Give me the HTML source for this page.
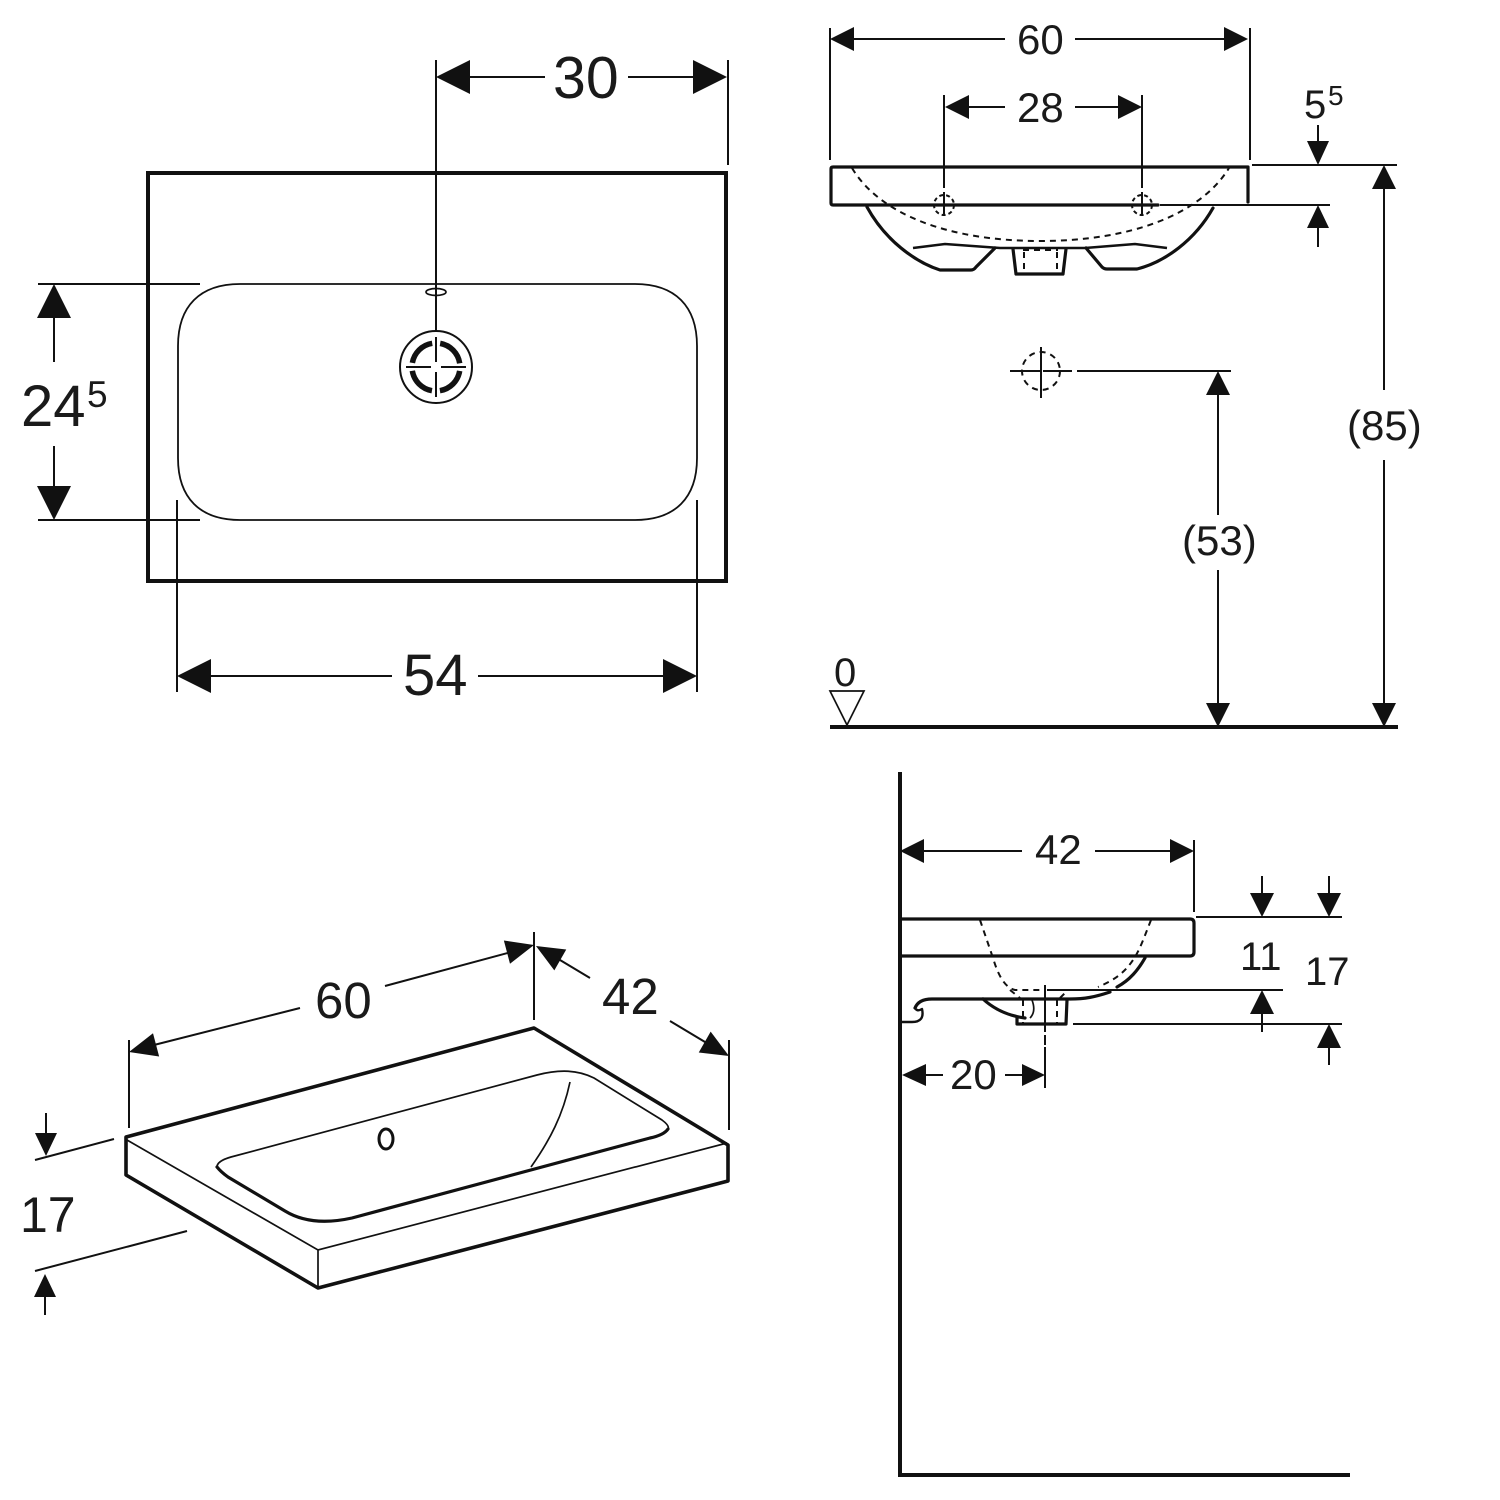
<!DOCTYPE html>
<html><head><meta charset="utf-8"><style>
html,body{margin:0;padding:0;background:#fff}
svg{display:block}
text{font-family:"Liberation Sans",sans-serif;fill:#1a1a1a}
.t{stroke:#111;stroke-width:1.7;fill:none}
.m{stroke:#111;stroke-width:2;fill:none}
.k{stroke:#111;stroke-width:3.2;fill:none;stroke-linejoin:round;stroke-linecap:round}
.d{stroke:#111;stroke-width:2;fill:none;stroke-dasharray:6 5}
polygon.a{fill:#111}
</style></head><body>
<svg width="1500" height="1500" viewBox="0 0 1500 1500" xmlns="http://www.w3.org/2000/svg">
<!-- Top-left plan -->
<rect x="148" y="173" width="578" height="408" fill="none" stroke="#111" stroke-width="4"/>
<path d="M240 284H635C675 284 697 306 697 346V458C697 498 675 520 635 520H240C200 520 178 498 178 458V346C178 306 200 284 240 284Z" fill="#fff" stroke="#111" stroke-width="1.8"/>
<path class="m" d="M436 60V335M728 60V165M38 284H200M38 520H200M177 500V692M697 500V692"/>
<path class="m" d="M470 77H545M628 77H693M54 318V362M54 446V490M211 676H392M478 676H663"/>
<polygon class="a" points="436,77 470,60 470,94"/><polygon class="a" points="727,77 693,60 693,94"/>
<polygon class="a" points="54,284 37,318 71,318"/><polygon class="a" points="54,520 37,486 71,486"/>
<polygon class="a" points="177,676 211,659 211,693"/><polygon class="a" points="697,676 663,659 663,693"/>
<text x="553" y="98" font-size="59">30</text>
<text x="403" y="695" font-size="58">54</text>
<text x="21" y="426" font-size="58">24</text><text x="87" y="407" font-size="37">5</text>
<ellipse cx="436" cy="292" rx="10" ry="3.5" fill="none" stroke="#111" stroke-width="1.7"/>
<circle cx="436" cy="367" r="36" fill="#fff" stroke="#111" stroke-width="2"/>
<circle cx="436" cy="367" r="24" fill="none" stroke="#111" stroke-width="5.5" stroke-dasharray="29.7 8" stroke-dashoffset="-4"/>
<path class="m" d="M436 337V362M436 372V397M406 367H431M441 367H466"/>
<!-- Top-right front -->
<path class="k" d="M1248 167H833Q831 167 831 169V203Q831 205 833 205H1158M1248 167V202"/>
<path class="m" d="M830 28V160M1250 28V160M944 95V188M1142 95V188M1252 165H1397M1160 205H1330M1077 371H1231"/>
<path class="k" d="M867 207C885 240 915 262 940 270H971Q974 270 976 267L995 248M1213 208C1195 240 1165 262 1137 269H1107Q1104 269 1102 267L1086 248"/>
<path class="k" d="M1013 249L1016 274H1063L1066 249" stroke-linecap="butt"/>
<path class="m" style="stroke-width:2.6" d="M913 248L945 244L1000 248H1085L1135 244L1167 248"/>
<path class="d" d="M852 168C880 215 950 241 1040 241C1130 241 1200 215 1229 168"/>
<path class="d" d="M1023 250H1058M1024 252V272M1057 252V272"/>
<circle class="d" cx="944" cy="205" r="10" style="stroke-dasharray:4 3"/>
<circle class="d" cx="1142" cy="205" r="10" style="stroke-dasharray:4 3"/>
<path class="m" d="M933 205H955M1131 205H1153M944 192V216M1142 192V216"/>
<path class="m" d="M854 39H1005M1075 39H1224M969 107H1005M1075 107H1118M1318 125V141M1318 228V247"/>
<polygon class="a" points="830,39 854,27 854,51"/><polygon class="a" points="1248,39 1224,27 1224,51"/>
<polygon class="a" points="945,107 969,95 969,119"/><polygon class="a" points="1142,107 1118,95 1118,119"/>
<polygon class="a" points="1318,165 1307,141 1329,141"/><polygon class="a" points="1318,205 1307,228 1329,228"/>
<text x="1017" y="54" font-size="42">60</text>
<text x="1017" y="122" font-size="42">28</text>
<text x="1304" y="118" font-size="40">5</text><text x="1328" y="105" font-size="28">5</text>
<circle cx="1041" cy="371" r="19" fill="none" stroke="#111" stroke-width="2" stroke-dasharray="6 5"/>
<path class="m" d="M1010 371H1040M1043 371H1072M1041 347V398"/>
<path class="m" d="M1384 189V390M1384 460V703M1218 395V515M1218 570V703"/>
<polygon class="a" points="1384,165 1372,189 1396,189"/><polygon class="a" points="1384,727 1372,703 1396,703"/>
<polygon class="a" points="1218,371 1206,395 1230,395"/><polygon class="a" points="1218,727 1206,703 1230,703"/>
<text x="1347" y="440" font-size="42">(85)</text>
<text x="1182" y="555" font-size="42">(53)</text>
<text x="834" y="686" font-size="40">0</text>
<polygon points="830,691 864,691 847,725" fill="none" stroke="#111" stroke-width="1.7"/>
<rect x="830" y="725" width="568" height="4" fill="#111"/>
<!-- Bottom-left isometric -->
<path d="M534 1028L126 1137V1175L318 1288L728 1181V1145Z" fill="none" stroke="#111" stroke-width="3.6" stroke-linejoin="round"/>
<path class="t" d="M127 1140L318 1250L727 1143M318 1250V1287"/>
<path class="t" d="M217 1167Q217 1161 231 1157L537 1075C560 1069 578 1070 594 1078L662 1120Q670 1126 668 1129"/>
<path d="M217 1167Q221 1172 228 1177L285 1211C303 1222 325 1224 352 1218L650 1138Q664 1135 668 1129" fill="none" stroke="#111" stroke-width="3.2" stroke-linecap="round"/>
<path class="t" d="M570 1082C563 1115 550 1140 531 1167"/>
<ellipse cx="386" cy="1139" rx="7" ry="10" fill="none" stroke="#111" stroke-width="3"/>
<path class="m" d="M129 1040V1128M534 932V1020M729 1040V1130M35 1160L114 1139M35 1271L187 1231"/>
<path class="m" d="M150 1046L300 1008M385 986L515 951M555 957L590 978M670 1021L710 1045M46 1113V1134M45 1296V1315"/>
<polygon class="a" points="0,0 28,-12 28,12" transform="translate(129,1052) rotate(-14.8)"/>
<polygon class="a" points="0,0 -28,-12 -28,12" transform="translate(534,945) rotate(-14.8)"/>
<polygon class="a" points="0,0 28,-12 28,12" transform="translate(536,946) rotate(29.8)"/>
<polygon class="a" points="0,0 -28,-12 -28,12" transform="translate(729,1056) rotate(29.8)"/>
<polygon class="a" points="46,1156 35,1133 57,1133"/><polygon class="a" points="45,1274 34,1297 56,1297"/>
<text x="315" y="1018" font-size="51">60</text>
<text x="602" y="1014" font-size="51">42</text>
<text x="20" y="1232" font-size="50">17</text>
<!-- Bottom-right side -->
<path d="M900 772V1477M898 1475H1350" fill="none" stroke="#111" stroke-width="4"/>
<path class="k" d="M902 919H1190Q1194 919 1194 923V952Q1194 956 1190 956H902"/>
<path class="k" d="M1145 958C1138 970 1130 980 1117 987M1110 992C1095 997 1085 999 1070 999H932C922 999 917 1003 915 1008"/>
<path class="k" style="stroke-width:2.4" d="M915 1008Q917 1012 922 1009Q925 1022 912 1022H902"/>
<path class="k" d="M983 999C995 1010 1010 1016 1025 1018M1017 1018V1024H1066L1067 1000"/>
<path class="d" d="M980 920L993 958C998 975 1005 988 1015 990H1043M1151 920C1145 935 1140 950 1133 960C1125 972 1115 980 1098 987"/>
<path class="d" d="M1023 1000V1024M1057 1000V1024M1010 990L1020 998M1060 998L1066 992"/>
<path class="t" d="M1032 1000C1035 1008 1034 1014 1030 1018"/>
<path class="m" d="M1047 990H1283M1073 1024H1342M1196 917H1342M1194 840V912M1045 985V1032M1045 1035V1045M1045 1047V1088"/>
<path class="m" d="M924 851H1022M1095 851H1170M926 1075H943M1005 1075H1022M1262 876V893M1262 1014V1032M1329 876V893M1329 1048V1065"/>
<polygon class="a" points="900,851 924,839 924,863"/><polygon class="a" points="1194,851 1170,839 1170,863"/>
<polygon class="a" points="902,1075 926,1064 926,1086"/><polygon class="a" points="1045,1075 1022,1064 1022,1086"/>
<polygon class="a" points="1262,917 1250,893 1274,893"/><polygon class="a" points="1262,990 1250,1014 1274,1014"/>
<polygon class="a" points="1329,917 1317,893 1341,893"/><polygon class="a" points="1329,1024 1317,1048 1341,1048"/>
<text x="1035" y="864" font-size="42">42</text>
<text x="950" y="1089" font-size="42">20</text>
<text x="1240" y="970" font-size="40">11</text>
<text x="1305" y="985" font-size="40">17</text>
</svg>
</body></html>
